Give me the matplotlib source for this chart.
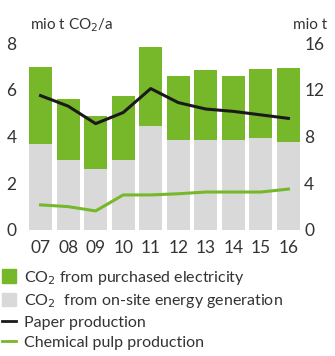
import numpy as np
import matplotlib
matplotlib.use('Agg')
import matplotlib.pyplot as plt
from matplotlib.patches import Patch
from matplotlib.lines import Line2D

plt.rcParams['font.family'] = ['Lato', 'DejaVu Sans']

years = ['07', '08', '09', '10', '11', '12', '13', '14', '15', '16']
# CO2 emissions, mio t CO2/a (left axis)
co2_onsite = [3.68, 3.0, 2.61, 3.0, 4.44, 3.85, 3.85, 3.85, 3.94, 3.76]
co2_total = [6.97, 5.6, 4.87, 5.73, 7.82, 6.58, 6.84, 6.58, 6.88, 6.92]
co2_purchased = [t - o for t, o in zip(co2_total, co2_onsite)]
# production, mio t (right axis)
paper_prod = [11.5, 10.6, 9.1, 10.05, 12.1, 10.9, 10.35, 10.15, 9.85, 9.55]
pulp_prod = [2.15, 2.0, 1.63, 3.0, 3.0, 3.1, 3.25, 3.25, 3.25, 3.5]

green = '#77b82a'
grey = '#d9d9d9'
dark = '#1a1a1a'
txt = '#333333'

fig = plt.figure(figsize=(3.35, 3.56), dpi=100)
ax = fig.add_axes([29/335, (356-230)/356, 271/335, 187/356])
ax2 = ax.twinx()

x = np.arange(len(years))
ax.bar(x, co2_onsite, width=0.83, color=grey)
ax.bar(x, co2_purchased, bottom=co2_onsite, width=0.83, color=green)

ax2.plot(x, paper_prod, color=dark, lw=2.2)
ax2.plot(x, pulp_prod, color=green, lw=2.2)

ax.set_xlim(-0.42, 9.42)
ax.set_ylim(0, 8)
ax2.set_ylim(0, 16)
ax.set_yticks([0, 2, 4, 6, 8])
ax2.set_yticks([0, 4, 8, 12, 16])
ax.set_xticks(x)
ax.set_xticklabels(years)

for a in (ax, ax2):
    for s in a.spines.values():
        s.set_visible(False)
    a.tick_params(length=0, labelsize=12.5, colors=txt)
ax.tick_params(axis='y', pad=9)
ax.tick_params(axis='x', pad=7)
ax2.tick_params(axis='y', pad=3)

fig.text(30/335, 1 - 29/356, 'mio t CO$_2$/a', fontsize=11, color=txt, va='baseline')
fig.text(293/335, 1 - 29/356, 'mio t', fontsize=11, color=txt, va='baseline')

handles = [Patch(color=green), Patch(color=grey),
           Line2D([], [], color=dark, lw=2), Line2D([], [], color=green, lw=2)]
labels = ['CO$_2$ from purchased electricity', 'CO$_2$  from on-site energy generation',
          'Paper production', 'Chemical pulp production']
fig.legend(handles, labels, loc='upper left', bbox_to_anchor=(0.0, 1 - 267/356),
           frameon=False, fontsize=11.5, labelcolor=txt, handlelength=0.9,
           handleheight=0.9, handletextpad=0.5, labelspacing=0.32,
           borderaxespad=0, borderpad=0.1)

fig.savefig('out.png', dpi=100)
